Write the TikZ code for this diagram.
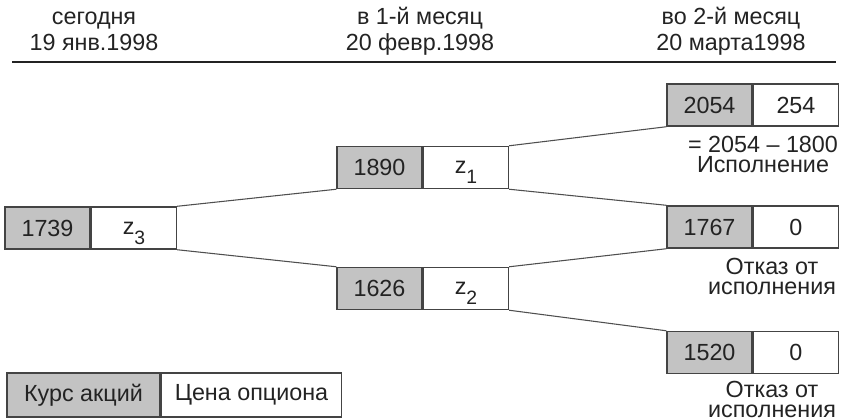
\documentclass[tikz,border=0pt]{standalone}
\usepackage{fontspec}
\setmainfont{Liberation Sans}
\usetikzlibrary{positioning}
\definecolor{boxgray}{RGB}{195,195,195}
\definecolor{ink}{RGB}{35,35,35}
\tikzset{
    stock/.style={draw=ink!85, line width=1.1pt, fill=boxgray, minimum width=63.75pt,
        minimum height=31.5pt, inner sep=0pt, text=ink},
    option/.style={stock, fill=white},
    branch/.style={draw=ink!80, line width=0.8pt},
    head/.style={align=center, inner sep=0pt, text=ink, font=\fontsize{17.5}{19.5}\selectfont},
    note/.style={head, font=\fontsize{17.5}{15}\selectfont},
}
\newcommand{\zsub}[1]{z\smash{\raisebox{-7.5pt}{\fontsize{14.5}{15}\selectfont #1}}}

\begin{document}
\begin{tikzpicture}[x=0.75pt, y=-0.75pt, font=\fontsize{17.5}{19.5}\selectfont]
    \useasboundingbox (0,0) rectangle (842,419);
    \node[head, anchor=south] (T0) at (94,51) {сегодня\\19 янв.1998};
    \node[head, anchor=south] (T1) at (420,56) {в 1-й месяц\\20 февр.1998};
    \node[head, anchor=south] (T2) at (731,56) {во 2-й месяц\\20 марта1998};
    \coordinate (L) at (12,62);
    \coordinate (R) at (836,62);
    \draw[ink, line width=1.3pt] (L) -- (R);

    \node[stock] (S0) at (47.5,228) {1739};
    \node[option, right=0pt of S0] (C0) {\zsub{3}};
    \node[stock] (S1) at (379.5,167.5) {1890};
    \node[option, right=0pt of S1] (C1) {\zsub{1}};
    \node[stock] (S2) at (379.5,288.5) {1626};
    \node[option, right=0pt of S2] (C2) {\zsub{2}};
    \node[stock] (S11) at (709.5,105) {2054};
    \node[option, right=0pt of S11] (C11) {254};
    \node[stock] (S12) at (709.5,227) {1767};
    \node[option, right=0pt of S12] (C12) {0};
    \node[stock] (S22) at (709.5,352.5) {1520};
    \node[option, right=0pt of S22] (C22) {0};

    \draw[branch] (C0.north east) -- (S1.south west);
    \draw[branch] (C0.south east) -- (S2.north west);
    \draw[branch] (C1.north east) -- (S11.south west);
    \draw[branch] (C1.south east) -- (S12.north west);
    \draw[branch] (C2.north east) -- (S12.south west);
    \draw[branch] (C2.south east) -- (S22.north west);

    \node[note, anchor=south] (N11) at (763,173) {= 2054 -- 1800\\Исполнение};
    \node[note, anchor=south] (N12) at (772,295) {Отказ от\\исполнения};
    \node[note, anchor=south] (N22) at (772,418) {Отказ от\\исполнения};

    \node[stock, minimum width=114.75pt, minimum height=33pt] (K) at (83.5,395) {Курс акций};
    \node[option, minimum width=135pt, minimum height=33pt, right=0pt of K] (P) {Цена опциона};
\end{tikzpicture}
\end{document}
